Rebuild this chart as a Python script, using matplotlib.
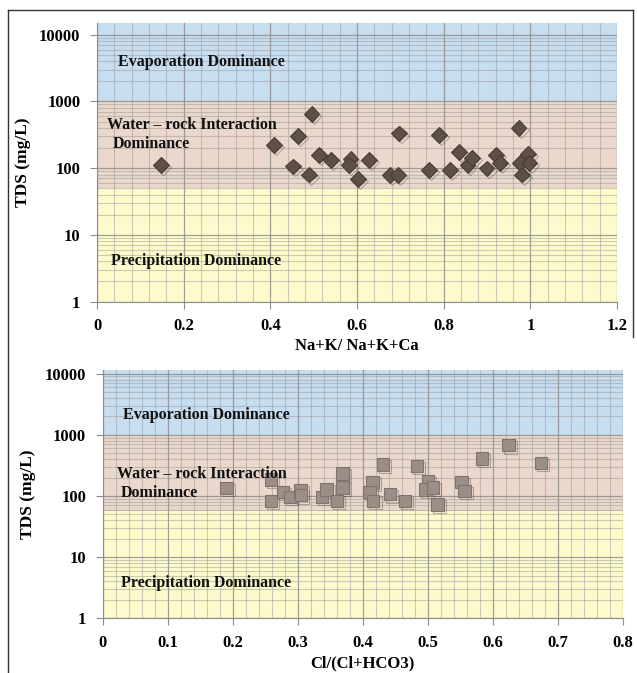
import numpy as np
import matplotlib
matplotlib.use("Agg")
import matplotlib.pyplot as plt
from matplotlib.lines import Line2D
import matplotlib.patheffects as pe

plt.rcParams['font.family'] = ['Liberation Serif', 'DejaVu Serif']
plt.rcParams['font.weight'] = 'bold'

# Gibbs plot data
na_ratio = [0.147, 0.409, 0.464, 0.495, 0.452, 0.490, 0.513, 0.540, 0.585, 0.582,
            0.602, 0.628, 0.697, 0.676, 0.694, 0.766, 0.790, 0.815, 0.835, 0.855,
            0.865, 0.899, 0.921, 0.930, 0.973, 0.995, 0.976, 0.998, 0.981]
tds_na = [111, 225, 302, 651, 106, 80, 156, 132, 138, 111,
          69, 132, 331, 79, 79, 93, 313, 94, 175, 111,
          142, 99, 157, 119, 400, 165, 120, 120, 80]

cl_ratio = [0.190, 0.259, 0.259, 0.277, 0.288, 0.304, 0.305, 0.337, 0.344, 0.360,
            0.369, 0.369, 0.415, 0.410, 0.416, 0.431, 0.483, 0.442, 0.465, 0.500,
            0.496, 0.508, 0.515, 0.552, 0.556, 0.583, 0.624, 0.674]
tds_cl = [136, 186, 83, 117, 97, 124, 103, 97, 128, 83,
          233, 138, 166, 117, 83, 327, 309, 107, 83, 177,
          128, 138, 73, 170, 121, 410, 676, 347]

yticks = [1, 10, 100, 1000, 10000]
xticks_top = [0, 0.2, 0.4, 0.6, 0.8, 1.0, 1.2]
xticklabels_top = ['0', '0.2', '0.4', '0.6', '0.8', '1', '1.2']
xticks_bot = [0, 0.1, 0.2, 0.3, 0.4, 0.5, 0.6, 0.7, 0.8]
xticklabels_bot = ['0', '0.1', '0.2', '0.3', '0.4', '0.5', '0.6', '0.7', '0.8']

# zone limits (lower edge of rock zone, lower edge of evaporation zone)
zones_top = [50, 1000]
zones_bot = [56, 1000]

c_blue = '#c7ddf0'
c_brown = '#ebd8cc'
c_yellow = '#fdfbcb'

fig = plt.figure(figsize=(6.37, 6.73), dpi=100)


def gibbs(ax, xs, ys, xmax, ymax, xticks, xlabels, minor_step, zones,
          xlabel, text_pos, marker, mcolor, medge, msize):
    ax.set_yscale('log')
    ax.set_xlim(0, xmax)
    ax.set_ylim(1, ymax)
    ax.axhspan(1, zones[0], color=c_yellow, lw=0, zorder=0)
    ax.axhspan(zones[0], zones[1], color=c_brown, lw=0, zorder=0)
    ax.axhspan(zones[1], ymax, color=c_blue, lw=0, zorder=0)

    ax.set_xticks(xticks)
    ax.set_xticklabels(xlabels)
    ax.set_xticks(np.arange(0, xmax + 1e-9, minor_step), minor=True)
    ax.set_yticks(yticks)
    ax.set_yticklabels([str(v) for v in yticks])
    ax.yaxis.set_minor_locator(matplotlib.ticker.LogLocator(base=10, subs=np.arange(2, 10)))
    ax.yaxis.set_minor_formatter(matplotlib.ticker.NullFormatter())

    ax.grid(True, which='major', color='#8a8a8a', lw=0.9, alpha=0.8, zorder=1)
    ax.grid(True, which='minor', color='#9a9a9a', lw=0.8, alpha=0.5, zorder=1)
    ax.set_axisbelow(True)

    for s in ['top', 'right']:
        ax.spines[s].set_visible(False)
    for s in ['left', 'bottom']:
        ax.spines[s].set_color('#8c8c8c')
    ax.tick_params(which='major', direction='out', length=5, color='#8c8c8c',
                   labelsize=12, pad=7)
    ax.tick_params(which='minor', length=0)
    for lab in ax.get_xticklabels() + ax.get_yticklabels():
        lab.set_fontweight('bold')

    ax.plot(xs, ys, linestyle='none', marker=marker, markersize=msize,
            markerfacecolor=mcolor, markeredgecolor=medge, markeredgewidth=0.8,
            zorder=3,
            path_effects=[pe.SimpleLineShadow(offset=(1.5, -1.5), alpha=0.25),
                          pe.Normal()])

    ax.set_xlabel(xlabel, fontsize=12, fontweight='bold', labelpad=3)
    ax.set_ylabel('TDS (mg/L)', fontsize=12.5, fontweight='bold', labelpad=6)

    kw = dict(fontsize=11.5, fontweight='bold', color='#111111',
              transform=ax.transAxes, va='center', zorder=4)
    ax.text(text_pos[0][0], text_pos[0][1], 'Evaporation Dominance', **kw)
    ax.text(text_pos[1][0], text_pos[1][1], 'Water \u2013 rock Interaction', **kw)
    ax.text(text_pos[2][0], text_pos[2][1], 'Dominance', **kw)
    ax.text(text_pos[3][0], text_pos[3][1], 'Precipitation Dominance', **kw)


ax1 = fig.add_axes([0.1523, 0.552, 0.8163, 0.4138])
gibbs(ax1, na_ratio, tds_na, 1.2, 15000, xticks_top, xticklabels_top, 0.04,
      zones_top, 'Na+K/ Na+K+Ca',
      [(0.04, 0.86), (0.02, 0.635), (0.03, 0.565), (0.027, 0.147)],
      'D', '#5e4f47', '#4a3d36', 8)

ax2 = fig.add_axes([0.1612, 0.0813, 0.8168, 0.369])
gibbs(ax2, cl_ratio, tds_cl, 0.8, 11500, xticks_bot, xticklabels_bot, 0.02,
      zones_bot, 'Cl/(Cl+HCO3)',
      [(0.04, 0.82), (0.027, 0.58), (0.035, 0.505), (0.035, 0.143)],
      's', '#9a8e87', '#7f736d', 9)

# outer frame
fig.add_artist(Line2D([0.0126, 0.0126], [0.0, 0.985], color='#333333', lw=1))
fig.add_artist(Line2D([0.0126, 0.993], [0.985, 0.985], color='#333333', lw=1))
fig.add_artist(Line2D([0.993, 0.993], [0.985, 0.50], color='#333333', lw=1))

fig.savefig('out.png', dpi=100)
